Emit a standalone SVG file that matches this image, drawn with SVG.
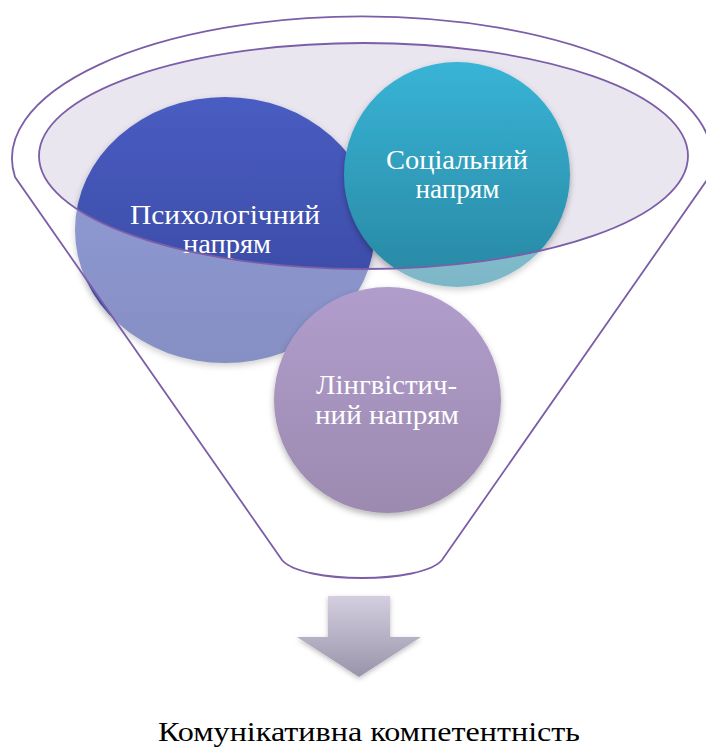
<svg xmlns="http://www.w3.org/2000/svg" width="706" height="748" viewBox="0 0 706 748">
  <style>
    .lbl { font-family: 'Liberation Serif', 'Times New Roman', serif; font-size: 28px; fill: #ffffff; text-anchor: middle; }
    .res { font-family: 'Liberation Serif', 'Times New Roman', serif; font-size: 28px; fill: #000000; text-anchor: middle; }
    .outline { fill: none; stroke: #7b5ea7; stroke-width: 1.8; }
  </style>
  <defs>
    <linearGradient id="gPsych" x1="0" y1="0" x2="0" y2="1">
      <stop offset="0" stop-color="#4a5cc2"/>
      <stop offset="1" stop-color="#36469c"/>
    </linearGradient>
    <linearGradient id="gSocial" x1="0" y1="0" x2="0" y2="1">
      <stop offset="0" stop-color="#38b4d6"/>
      <stop offset="1" stop-color="#2887a2"/>
    </linearGradient>
    <linearGradient id="gLing" x1="0" y1="0" x2="0" y2="1">
      <stop offset="0" stop-color="#b19dcc"/>
      <stop offset="1" stop-color="#9c8ab0"/>
    </linearGradient>
    <linearGradient id="gArrow" x1="0" y1="0" x2="0" y2="1">
      <stop offset="0" stop-color="#d4cee0"/>
      <stop offset="1" stop-color="#9a94aa"/>
    </linearGradient>
    <filter id="shadow" x="-20%" y="-20%" width="140%" height="150%">
      <feDropShadow dx="0" dy="3" stdDeviation="3" flood-color="#000000" flood-opacity="0.3"/>
    </filter>
    <filter id="soft" x="-20%" y="-20%" width="140%" height="150%">
      <feGaussianBlur stdDeviation="0.6"/>
      <feDropShadow dx="0" dy="2" stdDeviation="2.5" flood-color="#000000" flood-opacity="0.25"/>
    </filter>
  </defs>

  <g id="funnel">
    <path d="M 39,156 A 324.5 113 0 1 0 688,156 A 324.5 113 0 1 0 39,156 Z" fill="#e9e6ef"/>
  </g>

  <g id="node-psych">
    <ellipse cx="225" cy="230" rx="150" ry="133" fill="url(#gPsych)" filter="url(#shadow)"/>
    <text class="lbl" x="225" y="224" textLength="190" lengthAdjust="spacingAndGlyphs">Психологічний</text>
    <text class="lbl" x="227" y="253" textLength="88" lengthAdjust="spacingAndGlyphs">напрям</text>
  </g>

  <g id="node-social">
    <ellipse cx="457" cy="174.5" rx="113" ry="112.5" fill="url(#gSocial)" filter="url(#shadow)"/>
    <text class="lbl" x="457" y="169" textLength="142" lengthAdjust="spacingAndGlyphs">Соціальний</text>
    <text class="lbl" x="457.5" y="198" textLength="84" lengthAdjust="spacingAndGlyphs">напрям</text>
  </g>

  <g id="funnel-overlay">
    <path d="M 15,177 A 350 142 0 1 1 709,177 L 442,560 C 422,584 302,584 282,560 Z M 39,156 A 324.5 113 0 1 0 688,156 A 324.5 113 0 1 0 39,156 Z" fill="#ffffff" fill-opacity="0.4" fill-rule="evenodd"/>
    <path class="outline" d="M 15,177 A 350 142 0 1 1 709,177 L 442,560 C 422,584 302,584 282,560 Z"/>
    <path class="outline" d="M 39,156 A 324.5 113 0 1 0 688,156 A 324.5 113 0 1 0 39,156 Z"/>
  </g>

  <g id="node-ling">
    <ellipse cx="387.5" cy="400" rx="113.5" ry="113" fill="url(#gLing)" filter="url(#shadow)"/>
    <text class="lbl" x="386.5" y="394" textLength="141" lengthAdjust="spacingAndGlyphs">Лінгвістич-</text>
    <text class="lbl" x="387" y="424" textLength="144" lengthAdjust="spacingAndGlyphs">ний напрям</text>
  </g>

  <g id="connectors">
    <polygon points="328,596 390,596 390,637 421,637 359,677 297,637 328,637" fill="url(#gArrow)" filter="url(#soft)"/>
  </g>

  <g id="result">
    <text class="res" x="369" y="741" textLength="422" lengthAdjust="spacingAndGlyphs">Комунікативна компетентність</text>
  </g>
</svg>
